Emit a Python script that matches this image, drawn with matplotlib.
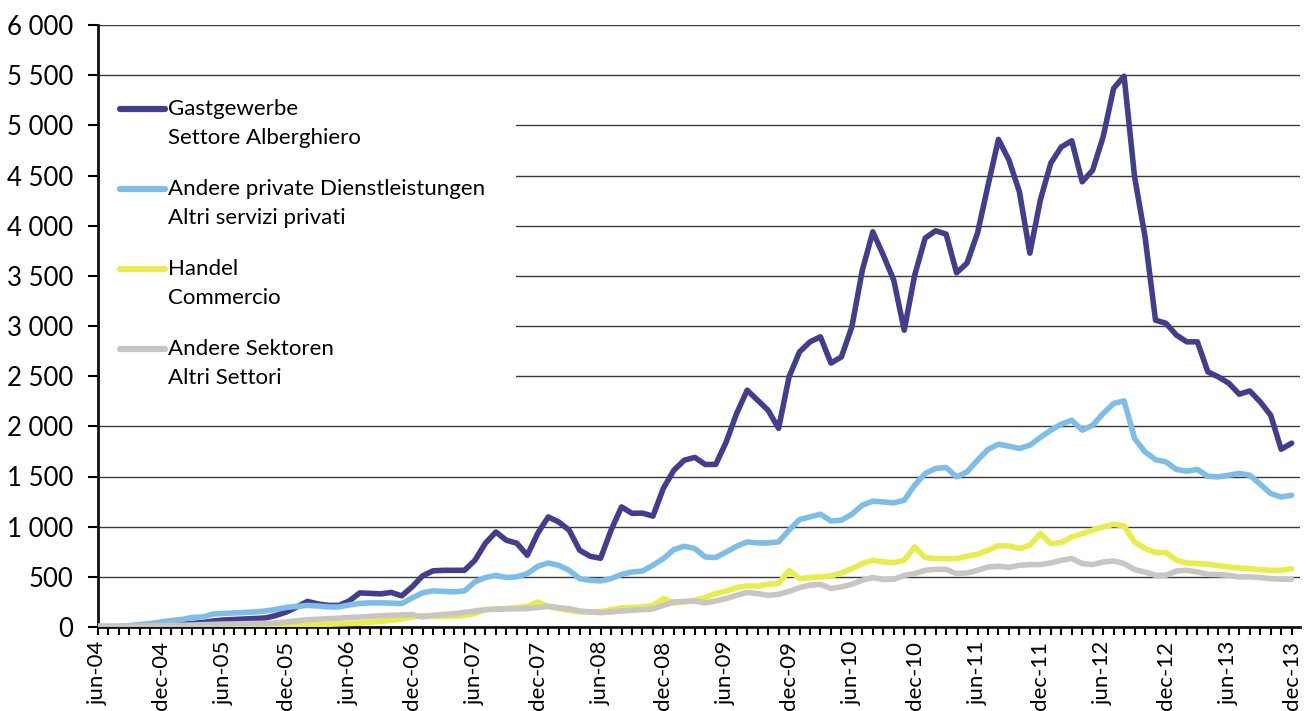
import numpy as np
import matplotlib as mpl
mpl.use('Agg')
import matplotlib.pyplot as plt
from matplotlib.ticker import FuncFormatter, MultipleLocator
from matplotlib.patches import Rectangle

plt.rcParams['font.family'] = ['Lato', 'DejaVu Sans']

# monthly values jun-04 .. dec-13
gastgewerbe = [0, 0, 0, 5, 10, 15, 20, 25, 30, 35, 45, 60, 70, 75, 80, 85, 90, 115, 150, 200,
               255, 230, 215, 215, 260, 340, 335, 330, 345, 310, 400, 510, 560, 565, 565, 565, 665, 835, 947, 865,
               835, 715, 935, 1097, 1047, 965, 765, 705, 685, 965, 1197, 1133, 1135, 1105, 1383, 1563, 1663, 1690, 1620, 1620,
               1845, 2130, 2360, 2260, 2160, 1980, 2493, 2742, 2842, 2892, 2630, 2692, 2992, 3557, 3939, 3707, 3457, 2958, 3507, 3876,
               3949, 3916, 3530, 3627, 3926, 4400, 4860, 4654, 4338, 3726, 4255, 4624, 4784, 4846, 4437, 4554, 4886, 5369, 5490, 4487,
               3889, 3058, 3027, 2909, 2842, 2842, 2543, 2493, 2430, 2320, 2353, 2244, 2111, 1772, 1832]
private_dienst = [0, 0, 5, 15, 25, 35, 50, 65, 75, 95, 100, 130, 135, 140, 145, 150, 160, 175, 195, 205,
                  215, 210, 200, 200, 220, 235, 240, 240, 238, 233, 290, 340, 360, 355, 350, 360, 450, 493, 515, 493,
                  500, 532, 605, 638, 615, 565, 482, 465, 459, 482, 525, 548, 558, 615, 682, 772, 805, 782, 698, 692,
                  748, 805, 848, 838, 838, 848, 965, 1071, 1097, 1124, 1057, 1064, 1124, 1214, 1254, 1247, 1237, 1263, 1413, 1530,
                  1580, 1590, 1496, 1546, 1662, 1769, 1822, 1802, 1779, 1812, 1889, 1962, 2021, 2061, 1962, 2011, 2128, 2228, 2254, 1879,
                  1745, 1669, 1645, 1570, 1553, 1570, 1503, 1496, 1513, 1530, 1513, 1423, 1330, 1296, 1313]
handel = [0, 0, 0, 0, 0, 0, 0, 0, 0, 0, 0, 0, 0, 0, 0, 2, 5, 8, 12, 16,
          20, 24, 27, 31, 35, 40, 48, 55, 67, 80, 100, 115, 105, 105, 107, 115, 133, 173, 180, 183,
          195, 206, 250, 206, 183, 166, 150, 150, 153, 173, 190, 195, 200, 216, 283, 240, 250, 266, 293, 333,
          359, 393, 410, 406, 426, 433, 565, 482, 493, 499, 509, 539, 582, 632, 665, 648, 642, 665, 798, 692,
          682, 682, 682, 705, 725, 765, 810, 808, 782, 815, 931, 832, 842, 898, 931, 965, 998, 1024, 1008, 848,
          782, 742, 742, 665, 638, 632, 625, 612, 598, 588, 582, 572, 565, 565, 582]
andere_sektoren = [10, 10, 10, 10, 10, 12, 14, 16, 18, 20, 23, 27, 29, 31, 33, 35, 37, 40, 50, 62,
                   73, 78, 83, 88, 94, 100, 106, 112, 117, 120, 123, 100, 117, 125, 133, 145, 160, 173, 177, 180,
                   182, 183, 195, 206, 193, 183, 160, 150, 143, 150, 160, 167, 173, 180, 216, 249, 255, 259, 240, 259,
                   283, 316, 345, 333, 316, 326, 355, 393, 416, 426, 383, 400, 426, 466, 493, 473, 476, 515, 532, 565,
                   575, 575, 532, 539, 565, 598, 605, 595, 615, 622, 622, 638, 665, 682, 632, 622, 648, 658, 632, 572,
                   548, 515, 515, 558, 565, 548, 525, 522, 515, 499, 499, 492, 482, 476, 476]

tick_labels = ['jun-04', 'dec-04', 'jun-05', 'dec-05', 'jun-06', 'dec-06', 'jun-07', 'dec-07',
               'jun-08', 'dec-08', 'jun-09', 'dec-09', 'jun-10', 'dec-10', 'jun-11', 'dec-11',
               'jun-12', 'dec-12', 'jun-13', 'dec-13']

series = [
    (gastgewerbe, '#433d8e', 'Gastgewerbe', 'Settore Alberghiero'),
    (private_dienst, '#7fbde9', 'Andere private Dienstleistungen', 'Altri servizi privati'),
    (handel, '#e8ec4c', 'Handel', 'Commercio'),
    (andere_sektoren, '#c8c5c2', 'Andere Sektoren', 'Altri Settori'),
]

fig = plt.figure(figsize=(13.08, 7.11), dpi=100)
ax = fig.add_axes([98/1308, 1-627/711, 1202/1308, 602/711])

x = np.arange(len(gastgewerbe))
for vals, col, l1, l2 in series:
    ax.plot(x, vals, color=col, lw=4.0, solid_capstyle='round', solid_joinstyle='round', zorder=3)

ax.set_xlim(0, 114.8)
ax.set_ylim(0, 6000)
ax.yaxis.set_major_locator(MultipleLocator(500))
ax.yaxis.set_major_formatter(FuncFormatter(lambda v, p: f'{int(v):,}'.replace(',', ' ')))
ax.grid(axis='y', color='#3a3a3a', lw=1.0, zorder=1)
ax.set_axisbelow(True)

ax.set_xticks(x, minor=True)
ax.set_xticks(x[::6])
ax.set_xticklabels(tick_labels, rotation=90, fontsize=16)
ax.tick_params(axis='x', which='both', length=6, width=1.5, direction='out', pad=4)
ax.tick_params(axis='y', length=7, width=1.5, direction='out', pad=11, labelsize=18.5)

for s in ['top', 'right']:
    ax.spines[s].set_visible(False)
for s in ['left', 'bottom']:
    ax.spines[s].set_linewidth(2)
    ax.spines[s].set_color('#111111')

# legend box, handle aligned with first text line
px_w, px_h = 1202, 602
ax.add_patch(Rectangle((2/px_w, 235/px_h), 416/px_w, 300/px_h, transform=ax.transAxes,
                       facecolor='white', edgecolor='none', zorder=2))
for k, (vals, col, l1, l2) in enumerate(series):
    yl = (627 - 109 - 80*k) / px_h
    ax.plot([22/px_w, 67/px_w], [yl, yl], transform=ax.transAxes, color=col, lw=4.5,
            solid_capstyle='round', zorder=4)
    ax.text(70/px_w, yl, l1, transform=ax.transAxes, va='center', ha='left', fontsize=16, zorder=4)
    ax.text(70/px_w, yl - 29/px_h, l2, transform=ax.transAxes, va='center', ha='left', fontsize=16, zorder=4)

fig.savefig('out.png', dpi=100)
